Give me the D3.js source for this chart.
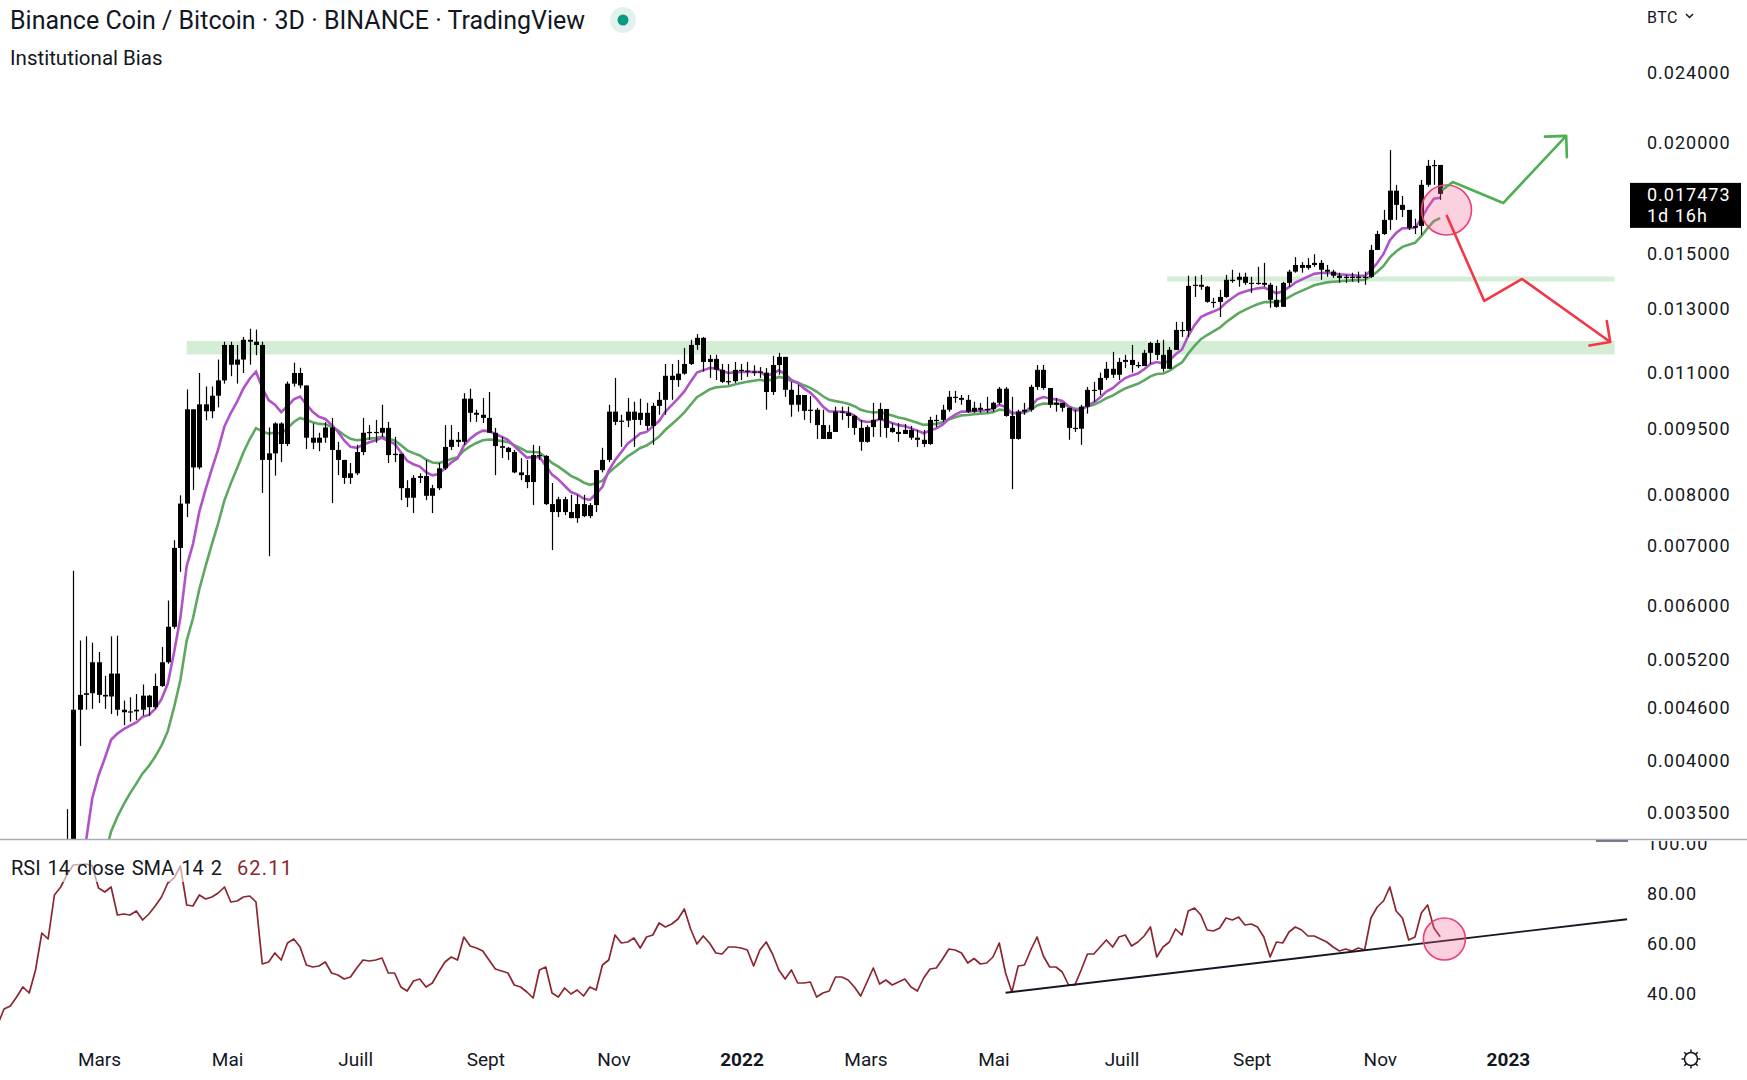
<!DOCTYPE html>
<html><head><meta charset="utf-8">
<script src="https://cdn.jsdelivr.net/npm/d3@7"></script>
<style>
html,body{margin:0;padding:0;background:#fff;overflow:hidden;}
svg{display:block;}
text{font-family:Roboto,"Liberation Sans",Arial,sans-serif;fill:#131722;}
</style></head><body>
<svg id="c" width="1747" height="1080"></svg>
<script>
// ---------- DATA ----------
// 3-day candles, first visible candle = 2021-02-17, pre-history candles below the visible range
const preOpen = 0.00106;
const preCloses = [0.00108,0.00110,0.00112,0.00115,0.00118,0.00125,0.00140,0.00180,0.00200,0.00240,0.00260];
const preHighs  = [0.00112,0.00114,0.00116,0.00119,0.00122,0.00130,0.00150,0.00195,0.00230,0.00270,0.00352];
const preLows   = [0.00104,0.00106,0.00108,0.00110,0.00113,0.00116,0.00122,0.00135,0.00170,0.00195,0.00230];

const closes = [
0.00456,0.00474,0.00476,0.00516,0.00474,0.00472,0.00501,0.00456,0.00453,0.00454,
0.00456,0.00473,0.00459,0.00485,0.00516,0.00566,0.00695,0.00780,0.00997,0.00857,
0.01010,0.00992,0.01033,0.01075,0.01179,0.01120,0.01135,0.01195,0.01189,0.01179,
0.00874,0.00889,0.00961,0.00911,0.01066,0.01096,0.01061,0.00926,0.00914,0.00926,
0.00951,0.00897,0.00874,0.00834,0.00844,0.00892,0.00938,0.00940,0.00938,0.00950,
0.00885,0.00888,0.00812,0.00792,0.00834,0.00838,0.00796,0.00812,0.00855,0.00904,
0.00921,0.00916,0.01025,0.00988,0.00983,0.00975,0.00938,0.00906,0.00902,0.00892,
0.00846,0.00840,0.00825,0.00885,0.00883,0.00779,0.00763,0.00789,0.00763,0.00751,
0.00779,0.00755,0.00777,0.00851,0.00874,0.00991,0.00965,0.00968,0.00991,0.00970,
0.00988,0.00955,0.01006,0.01022,0.01088,0.01076,0.01094,0.01122,0.01179,0.01201,
0.01128,0.01137,0.01105,0.01071,0.01073,0.01105,0.01103,0.01100,0.01100,0.01097,
0.01043,0.01119,0.01143,0.01049,0.01009,0.01035,0.00993,0.00996,0.00957,0.00923,
0.00940,0.00991,0.00988,0.00980,0.00950,0.00916,0.00952,0.00970,0.00998,0.00950,
0.00940,0.00935,0.00945,0.00926,0.00921,0.00911,0.00970,0.00970,0.00996,0.01030,
0.01027,0.01022,0.00991,0.01001,0.00996,0.00998,0.01014,0.01052,0.00980,0.00923,
0.00991,0.00996,0.01057,0.01105,0.01054,0.01009,0.01014,0.01001,0.00950,0.00948,
0.01004,0.01049,0.01049,0.01082,0.01108,0.01091,0.01128,0.01134,0.01119,0.01116,
0.01155,0.01185,0.01149,0.01108,0.01164,0.01226,0.01223,0.01375,0.01379,0.01372,
0.01319,0.01319,0.01336,0.01397,0.01397,0.01408,0.01386,0.01386,0.01386,0.01379,
0.01326,0.01302,0.01386,0.01427,0.01452,0.01441,0.01452,0.01460,0.01434,0.01427,
0.01412,0.01404,0.01408,0.01408,0.01404,0.01408,0.01510,0.01574,0.01633,0.01762,
0.01698,0.01676,0.01600,0.01607,0.01789,0.01880,0.01884,0.017473];

const highs = [
0.00655,0.00546,0.00552,0.00543,0.00530,0.00498,0.00552,0.00553,0.00467,0.00471,
0.00475,0.00487,0.00474,0.00501,0.00537,0.00606,0.00709,0.00797,0.01050,0.00887,
0.01096,0.01058,0.01058,0.01135,0.01189,0.01189,0.01179,0.01204,0.01230,0.01227,
0.01189,0.00951,0.00964,0.00964,0.01072,0.01126,0.01111,0.01058,0.00961,0.00938,
0.00964,0.00975,0.00916,0.00867,0.00867,0.00909,0.00975,0.00957,0.00970,0.01009,
0.00965,0.00928,0.00885,0.00829,0.00840,0.00844,0.00874,0.00819,0.00867,0.00957,
0.00957,0.00940,0.01040,0.01052,0.00996,0.01027,0.01043,0.00950,0.00928,0.00904,
0.00897,0.00878,0.00874,0.00909,0.00906,0.00885,0.00823,0.00794,0.00794,0.00798,
0.00798,0.00798,0.00781,0.00851,0.00902,0.01009,0.01082,0.00983,0.01027,0.01017,
0.01025,0.01014,0.01014,0.01043,0.01122,0.01122,0.01134,0.01170,0.01195,0.01213,
0.01204,0.01149,0.01149,0.01122,0.01122,0.01128,0.01122,0.01128,0.01118,0.01113,
0.01110,0.01146,0.01155,0.01134,0.01071,0.01063,0.01017,0.01032,0.01001,0.00996,
0.00957,0.01004,0.01004,0.01004,0.00983,0.00970,0.00957,0.01014,0.01014,0.00965,
0.00962,0.00962,0.00960,0.00955,0.00945,0.00945,0.00978,0.00983,0.01009,0.01046,
0.01046,0.01035,0.01035,0.01017,0.01014,0.01030,0.01017,0.01057,0.01057,0.01030,
0.00996,0.01014,0.01063,0.01119,0.01119,0.01054,0.01027,0.01009,0.01001,0.00996,
0.01009,0.01057,0.01071,0.01097,0.01128,0.01158,0.01140,0.01149,0.01179,0.01128,
0.01164,0.01189,0.01195,0.01195,0.01173,0.01252,0.01252,0.01412,0.01410,0.01415,
0.01375,0.01333,0.01361,0.01415,0.01434,0.01423,0.01423,0.01408,0.01445,0.01460,
0.01386,0.01375,0.01390,0.01434,0.01482,0.01463,0.01478,0.01493,0.01471,0.01452,
0.01434,0.01423,0.01415,0.01423,0.01427,0.01427,0.01530,0.01587,0.01676,0.01959,
0.01789,0.01738,0.01676,0.01638,0.01812,0.01909,0.01909,0.01803];

const lows = [
0.00250,0.00415,0.00456,0.00457,0.00464,0.00457,0.00451,0.00449,0.00438,0.00442,
0.00444,0.00449,0.00449,0.00457,0.00484,0.00514,0.00563,0.00653,0.00753,0.00808,
0.00853,0.00969,0.00974,0.01002,0.01066,0.01087,0.01066,0.01096,0.01120,0.01148,
0.00802,0.00680,0.00839,0.00869,0.00906,0.01058,0.01053,0.00899,0.00899,0.00894,
0.00914,0.00781,0.00840,0.00821,0.00821,0.00840,0.00885,0.00921,0.00914,0.00928,
0.00867,0.00869,0.00787,0.00773,0.00761,0.00823,0.00787,0.00761,0.00808,0.00851,
0.00897,0.00904,0.00909,0.00965,0.00965,0.00962,0.00938,0.00840,0.00878,0.00874,
0.00844,0.00829,0.00812,0.00777,0.00874,0.00777,0.00691,0.00753,0.00757,0.00751,
0.00742,0.00753,0.00751,0.00763,0.00846,0.00869,0.00957,0.00904,0.00952,0.00904,
0.00957,0.00945,0.00909,0.00983,0.00983,0.01022,0.01057,0.01091,0.01119,0.01164,
0.01100,0.01082,0.01076,0.01068,0.01063,0.01068,0.01076,0.01085,0.01088,0.01082,
0.00996,0.01035,0.01091,0.01030,0.00978,0.00991,0.00970,0.00962,0.00923,0.00923,
0.00928,0.00945,0.00970,0.00950,0.00933,0.00895,0.00914,0.00928,0.00928,0.00926,
0.00938,0.00916,0.00938,0.00921,0.00904,0.00904,0.00909,0.00952,0.00965,0.00991,
0.01014,0.01009,0.00988,0.00988,0.00988,0.00988,0.00991,0.01009,0.00978,0.00810,
0.00921,0.00983,0.00991,0.01049,0.01049,0.01001,0.00991,0.00991,0.00921,0.00940,
0.00909,0.00986,0.01017,0.01035,0.01076,0.01082,0.01076,0.01110,0.01097,0.01110,
0.01119,0.01122,0.01134,0.01100,0.01143,0.01164,0.01204,0.01204,0.01336,0.01361,
0.01316,0.01299,0.01268,0.01333,0.01386,0.01372,0.01379,0.01350,0.01379,0.01372,
0.01299,0.01299,0.01354,0.01372,0.01423,0.01423,0.01434,0.01445,0.01397,0.01408,
0.01404,0.01386,0.01386,0.01390,0.01386,0.01379,0.01404,0.01510,0.01570,0.01591,
0.01633,0.01645,0.01591,0.01574,0.01570,0.01780,0.01789,0.01720];

// RSI 14 values, one per candle, starting 12 candles before the first visible one
const rsiValues = [
27,33.2,34.4,38,42,39.6,48.8,63.6,61.2,78.8,
82,87,90.8,91,91.2,90.5,81.6,80,82,70.8,
71.2,70.8,72.4,68.8,71.2,74.4,78,83.6,85.6,90.4,
74.8,74.4,78.8,77.2,78,79.6,82,76,76.4,78,
78.4,76,51.2,52,55.6,52.8,59.6,61.2,58,50.8,
50,50.4,52,47.6,46.8,45.2,46,49.6,52.8,52.4,
52.8,53.6,47.6,47.6,42,40.4,44.4,45.2,42,43.6,
48,52,54,52.8,62,58.4,57.6,56.4,52.8,49.2,
48.4,47.6,42.8,42,40,37.6,48.8,50,39.6,38,
41.6,39.2,40.8,38.4,42,40.8,50.8,52.8,62.8,59.6,
60,61.6,57.6,62,62.8,67.6,66,67.2,69.2,73.2,
65.2,59.2,62.4,59.6,55.6,55.2,58,58,57.6,56.8,
50.4,56.8,60,55.2,48.8,45.2,48.8,43.6,43.6,44,
38,39.6,40.4,46,46,44.8,42,38.4,44,49.6,
43.2,44.8,42.8,44,45.2,42,40.4,45.6,49.2,49.6,
53.2,57.2,56.8,55.6,51.6,53.4,51.2,51.6,54,59.6,
47.6,40,50.4,50.8,56.8,62,54.4,50,50,48,
42.8,42.8,48.8,55.2,55.2,58,60.8,58,62,62.8,
58.4,60,62.4,66,54,58,60,65.2,62.8,72.4,
73.6,70.8,64.8,64.4,65.6,69.6,68.8,70,66.8,67.2,
66,62,54,60,59.6,64,66,64.8,62.4,62.4,
61.2,60,58,56.4,57.2,56.4,57.6,56.8,69.6,74,
76.4,82,72.4,69.6,60.8,62,71.6,74.8,65.6,62.11];

const priceTicks = [0.024,0.020,0.015,0.013,0.011,0.0095,0.008,0.007,0.006,0.0052,0.0046,0.004,0.0035];
const rsiTicks = [100,80,60,40];
const monthTickDates = ["2021-03-01","2021-05-01","2021-07-01","2021-09-01","2021-11-01","2022-01-01","2022-03-01","2022-05-01","2022-07-01","2022-09-01","2022-11-01","2023-01-01"];
const monthTickLabels = ["Mars","Mai","Juill","Sept","Nov","2022","Mars","Mai","Juill","Sept","Nov","2023"];
const lastPrice = 0.017473;
const lastLabel = ["0.017473","1d 16h"];
const rsiLegend = ["RSI","14","close","SMA","14","2"];
const rsiLastLabel = "62.11";

// zones & drawings
const zoneUpper = {from:"2022-07-23", to:"2023-02-21", top:0.01409, bottom:0.01391};
const zoneLower = {from:"2021-04-12", to:"2023-02-21", top:0.01191, bottom:0.01150};
const greenArrow = [["2022-12-01",0.01765],["2022-12-06",0.01802],["2022-12-30",0.01706],["2023-01-29",0.02032]];
const redArrow = [["2022-12-03",0.01654],["2022-12-21",0.01322],["2023-01-08",0.01400],["2023-02-19",0.01188]];
const priceCircle = {date:"2022-12-03", price:0.016755};
const rsiCircle = {date:"2022-12-02", value:61.2};
const rsiTrend = [["2022-05-07",39.7],["2023-02-27",69.1]];

// ---------- LAYOUT ----------
const W=1747, H=1080, plotR=1629, priceBottom=839, rsiTop=841, rsiBottom=1042;
const DAY=864e5;
const d0 = Date.UTC(2021,1,17);
const dateOf = k => new Date(d0 + k*3*DAY);
const pd = s => new Date(s+"T00:00:00Z");

const x = d3.scaleUtc().domain([new Date(Date.UTC(2021,0,13,2)), new Date(Date.UTC(2023,1,27,22))]).range([0,plotR]);
const y = d3.scaleLog().domain([0.028950,0.0032565]).range([0,priceBottom]);
const yr = d3.scaleLinear().domain([0,100]).range([1092,842]);

const svg = d3.select("#c");
const defs = svg.append("defs");
defs.append("clipPath").attr("id","cp").append("rect").attr("x",0).attr("y",0).attr("width",plotR).attr("height",priceBottom);
defs.append("clipPath").attr("id","cr").append("rect").attr("x",0).attr("y",rsiTop).attr("width",plotR).attr("height",rsiBottom-rsiTop);
defs.append("clipPath").attr("id","ca").append("rect").attr("x",plotR).attr("y",rsiTop).attr("width",W-plotR).attr("height",rsiBottom-rsiTop);
function marker(id,color){
  defs.append("marker").attr("id",id).attr("markerUnits","userSpaceOnUse")
    .attr("viewBox","-20 -20 40 40").attr("refX",0).attr("refY",0)
    .attr("markerWidth",40).attr("markerHeight",40).attr("orient","auto")
    .append("path").attr("d","M-15,-15L0,0L-15,15").attr("fill","none")
    .attr("stroke",color).attr("stroke-width",2.6).attr("stroke-linecap","round").attr("stroke-linejoin","round");
}
marker("mg","#4caf50"); marker("mr","#f23645");

// ---------- PRICE PANE ----------
const pp = svg.append("g").attr("clip-path","url(#cp)");
[zoneUpper,zoneLower].forEach(z=>{
  pp.append("rect").attr("x",x(pd(z.from))).attr("width",x(pd(z.to))-x(pd(z.from)))
    .attr("y",y(z.top)).attr("height",y(z.bottom)-y(z.top)).attr("fill","#d4edd5");
});

const allC = preCloses.concat(closes), allH = preHighs.concat(highs), allL = preLows.concat(lows);
const nPre = preCloses.length;
const candles = allC.map((c,j)=>{
  const o = j===0 ? preOpen : allC[j-1];
  return {k:j-nPre, o, c, h:Math.max(allH[j],o,c), l:Math.min(allL[j],o,c)};
});
function ema(arr,n){const a=2/(n+1);let e=arr[0];return arr.map((v,i)=>{e=i===0?v:a*v+(1-a)*e;return e;});}
const e9 = ema(allC,9), e18 = ema(allC,18);

const line = d3.line().x(d=>x(dateOf(d.k))).y(d=>y(d.v));
pp.append("path").datum(candles.map((c,i)=>({k:c.k,v:e18[i]}))).attr("d",line)
  .attr("fill","none").attr("stroke","#5ca860").attr("stroke-width",2.6);
pp.append("path").datum(candles.map((c,i)=>({k:c.k,v:e9[i]}))).attr("d",line)
  .attr("fill","none").attr("stroke","#b052c8").attr("stroke-width",2.6);

const bw = 5;
const cg = pp.append("g");
cg.selectAll("line").data(candles).join("line")
  .attr("x1",d=>Math.round(x(dateOf(d.k)))+0.5).attr("x2",d=>Math.round(x(dateOf(d.k)))+0.5)
  .attr("y1",d=>y(d.h)).attr("y2",d=>y(d.l)).attr("stroke","#000").attr("stroke-width",1.2);
cg.selectAll("rect").data(candles).join("rect")
  .attr("x",d=>Math.round(x(dateOf(d.k)))+0.5-bw/2).attr("width",bw)
  .attr("y",d=>y(Math.max(d.o,d.c))).attr("height",d=>Math.max(1.2,y(Math.min(d.o,d.c))-y(Math.max(d.o,d.c))))
  .attr("fill","#000");

pp.append("circle").attr("cx",x(pd(priceCircle.date))).attr("cy",y(priceCircle.price)).attr("r",25)
  .attr("fill","rgba(242,100,150,0.3)").attr("stroke","#ec407a").attr("stroke-width",1.6);
const aline = d3.line().x(d=>x(pd(d[0]))).y(d=>y(d[1]));
pp.append("path").datum(greenArrow).attr("d",aline).attr("fill","none").attr("stroke","#4caf50")
  .attr("stroke-width",2.6).attr("stroke-linejoin","round").attr("marker-end","url(#mg)");
pp.append("path").datum(redArrow).attr("d",aline).attr("fill","none").attr("stroke","#f23645")
  .attr("stroke-width",2.6).attr("stroke-linejoin","round").attr("marker-end","url(#mr)");

// ---------- RSI PANE ----------
const rp = svg.append("g").attr("clip-path","url(#cr)");
const rline = d3.line().x((d,i)=>x(dateOf(i-12))).y(d=>yr(d));
rp.append("path").datum(rsiValues).attr("d",rline).attr("fill","none").attr("stroke","#8b2630").attr("stroke-width",1.7).attr("stroke-linejoin","round");
rp.append("path").datum(rsiTrend).attr("d",d3.line().x(d=>x(pd(d[0]))).y(d=>yr(d[1])))
  .attr("fill","none").attr("stroke","#131722").attr("stroke-width",1.8);
rp.append("circle").attr("cx",x(pd(rsiCircle.date))).attr("cy",yr(rsiCircle.value)).attr("r",21)
  .attr("fill","rgba(242,100,150,0.3)").attr("stroke","#ec407a").attr("stroke-width",1.6);
rp.append("rect").attr("x",6).attr("y",854).attr("width",292).attr("height",28).attr("fill","#fff").attr("opacity",0.6);
const leg = svg.append("text").attr("x",11).attr("y",875).style("font-size","20px");
leg.append("tspan").style("word-spacing","2px").text(rsiLegend.join(" "));
leg.append("tspan").attr("dx",15).style("fill","#8b2630").style("letter-spacing","1.2px").text(rsiLastLabel);

svg.append("line").attr("x1",0).attr("x2",W).attr("y1",839.5).attr("y2",839.5).attr("stroke","#a9acb5").attr("stroke-width",1.4);
svg.append("line").attr("x1",1596).attr("x2",1628).attr("y1",841).attr("y2",841).attr("stroke","#50535e").attr("stroke-width",1.5);

// ---------- AXES ----------
const ax = svg.append("g");
ax.selectAll("text.p").data(priceTicks).join("text").attr("class","p")
  .attr("x",1647).attr("y",d=>y(d)).attr("dy","0.4em").style("font-size","18px").style("letter-spacing","1px")
  .text(d=>d.toFixed(6));
const ra = svg.append("g").attr("clip-path","url(#ca)");
ra.selectAll("text").data(rsiTicks).join("text")
  .attr("x",1647).attr("y",d=>yr(d)).attr("dy","0.45em").style("font-size","18px").style("letter-spacing","1px")
  .text(d=>d.toFixed(2));
svg.append("rect").attr("x",1630).attr("y",y(lastPrice)-11).attr("width",111).attr("height",45).attr("fill","#000");
svg.append("text").attr("x",1647).attr("y",y(lastPrice)).attr("dy","0.4em").style("font-size","18px").style("letter-spacing","1px").style("fill","#fff").text(lastLabel[0]);
svg.append("text").attr("x",1647).attr("y",y(lastPrice)+21).attr("dy","0.4em").style("font-size","18px").style("letter-spacing","1px").style("fill","#fff").text(lastLabel[1]);
svg.append("text").attr("x",1647).attr("y",17).attr("dy","0.36em").style("font-size","16px").style("letter-spacing","0.5px").text("BTC");
svg.append("path").attr("d","M1686,14 l3.5,3.5 l3.5,-3.5").attr("fill","none").attr("stroke","#131722").attr("stroke-width",1.5);

ax.selectAll("text.t").data(monthTickDates).join("text").attr("class","t")
  .attr("x",d=>x(pd(d))+1).attr("y",1059).attr("dy","0.36em").attr("text-anchor","middle")
  .style("font-size","19px").style("font-weight",(d,i)=>/^\d{4}$/.test(monthTickLabels[i])?"700":"400")
  .text((d,i)=>monthTickLabels[i]);

const gx=1691, gy=1059;
const gear = svg.append("g").attr("stroke","#131722").attr("stroke-width",1.5).attr("fill","none");
gear.append("circle").attr("cx",gx).attr("cy",gy).attr("r",6.5);
d3.range(8).forEach(i=>{const a=i*Math.PI/4;gear.append("line")
  .attr("x1",gx+Math.cos(a)*6.5).attr("y1",gy+Math.sin(a)*6.5).attr("x2",gx+Math.cos(a)*9.5).attr("y2",gy+Math.sin(a)*9.5);});

// ---------- HEADER ----------
svg.append("text").attr("x",10).attr("y",29).style("font-size","25px").text("Binance Coin / Bitcoin · 3D · BINANCE · TradingView");
svg.append("circle").attr("cx",623).attr("cy",20).attr("r",13).attr("fill","#e3f1ee");
svg.append("circle").attr("cx",623).attr("cy",20).attr("r",5.5).attr("fill","#089981");
svg.append("text").attr("x",10).attr("y",65).style("font-size","20.5px").text("Institutional Bias");
</script>
</body></html>
